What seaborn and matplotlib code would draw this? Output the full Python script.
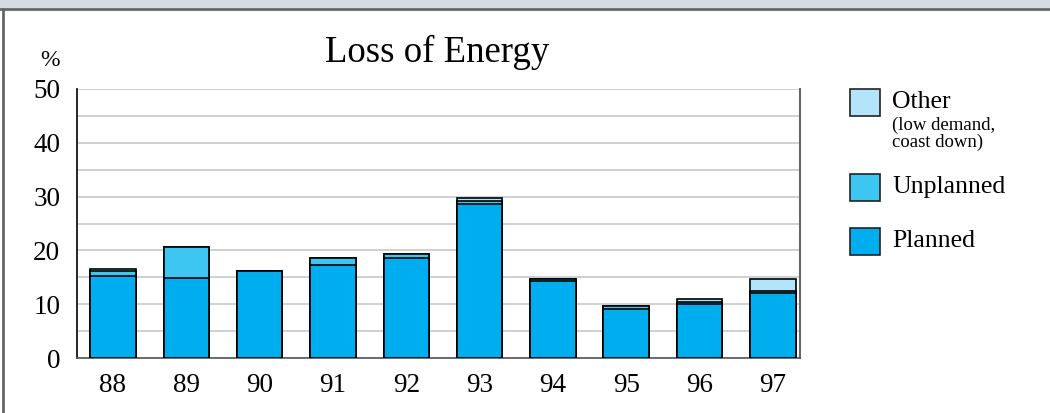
import matplotlib
matplotlib.use('Agg')
import matplotlib.pyplot as plt
import seaborn as sns
import pandas as pd
from matplotlib.patches import Rectangle
from matplotlib.lines import Line2D

# -----------------------------
# Data (% of energy lost)
# -----------------------------
years = ['88', '89', '90', '91', '92', '93', '94', '95', '96', '97']
planned = [15.3, 14.8, 16.1, 17.2, 18.6, 28.7, 14.4, 9.2, 10.0, 12.1]
unplanned = [0.9, 5.9, 0.1, 1.3, 0.8, 0.5, 0.2, 0.5, 0.5, 0.4]
other = [0.3, 0.0, 0.0, 0.0, 0.0, 0.5, 0.0, 0.0, 0.4, 2.1]

c_planned = '#00adee'
c_unplanned = '#3ec6f2'
c_other = '#b3e4f9'

df = pd.DataFrame({'year': years, 'planned': planned,
                   'unplanned': unplanned, 'other': other})
df['pu'] = df['planned'] + df['unplanned']
df['total'] = df['pu'] + df['other']

sns.set_style('white')
plt.rcParams['font.family'] = ['Liberation Serif', 'DejaVu Serif']
plt.rcParams['text.color'] = 'black'
plt.rcParams['xtick.color'] = 'black'
plt.rcParams['ytick.color'] = 'black'

fig = plt.figure(figsize=(10.5, 4.13), dpi=100)
fig.patch.set_facecolor('white')

# outer frame: grey band on top, dark line top and left
fig.patches.append(Rectangle((0, 1 - 8 / 413), 1, 8 / 413, transform=fig.transFigure,
                             facecolor='#d5dbe0', edgecolor='none', zorder=0))
fig.lines.append(Line2D([0, 1], [1 - 9 / 413] * 2, transform=fig.transFigure,
                        color='#666666', lw=2))
fig.lines.append(Line2D([3 / 1050] * 2, [0, 1 - 9 / 413], transform=fig.transFigure,
                        color='#666666', lw=2))

ax = fig.add_axes([77 / 1050, 1 - 358 / 413, (800 - 77) / 1050, (358 - 89) / 413])

# stacked bars: draw totals first, then cover with the lower parts
for col, colr in [('total', c_other), ('pu', c_unplanned), ('planned', c_planned)]:
    sns.barplot(data=df, x='year', y=col, color=colr, edgecolor='black',
                linewidth=1.2, width=0.62, saturation=1, ax=ax, zorder=3)

ax.set_xlim(-0.49, 9.37)
ax.set_ylim(0, 50)
ax.set_yticks(range(0, 51, 10))
ax.set_yticks(range(5, 50, 10), minor=True)
ax.grid(True, axis='y', which='both', color='#c6cacd', lw=1.2, zorder=0)
ax.set_axisbelow(True)
ax.tick_params(axis='both', which='both', length=0, labelsize=19.5, labelcolor='black')
ax.tick_params(axis='x', pad=11)
ax.tick_params(axis='y', pad=12)
ax.set_xlabel('')
ax.set_ylabel('')
ax.spines['top'].set_visible(False)
ax.spines['left'].set_color('black')
ax.spines['left'].set_linewidth(1.2)
ax.spines['bottom'].set_color('#555555')
ax.spines['bottom'].set_linewidth(1.2)
ax.spines['right'].set_color('#666666')
ax.spines['right'].set_linewidth(1.5)

fig.text(437 / 1050, 1 - 52 / 413, 'Loss of Energy', ha='center', va='center', fontsize=26.5)
fig.text(40 / 1050, 1 - 61 / 413, '%', ha='left', va='center', fontsize=17)

# legend drawn by hand on the right
items = [(c_other, 'Other', 102), (c_unplanned, 'Unplanned', 187), (c_planned, 'Planned', 241)]
for colr, lab, yc in items:
    fig.patches.append(Rectangle((850 / 1050, 1 - (yc + 14) / 413), 30 / 1050, 27 / 413,
                                 transform=fig.transFigure, facecolor=colr,
                                 edgecolor='#222222', lw=1.2))
    fig.text(892 / 1050, 1 - yc / 413, lab, ha='left', va='center', fontsize=18.5)
fig.text(892 / 1050, 1 - 134 / 413, '(low demand,\ncoast down)', ha='left', va='center',
         fontsize=13.5, linespacing=0.95)

plt.savefig('out.png', dpi=100, facecolor=fig.get_facecolor())
